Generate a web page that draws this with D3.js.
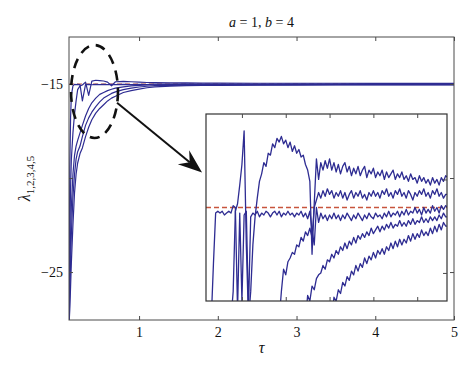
<!DOCTYPE html>
<html>
<head>
<meta charset="utf-8">
<script src="https://cdn.jsdelivr.net/npm/d3@7"></script>
<style>
  body { margin: 0; background: #fff; }
</style>
</head>
<body>
<div id="chart"></div>
<script>
// main panel: sample times and the five exponents
var mainTau = [0.11, 0.115, 0.12, 0.13, 0.14, 0.16, 0.18, 0.2, 0.22, 0.25, 0.28, 0.32, 0.36, 0.4, 0.45, 0.5,
  0.55, 0.6, 0.65, 0.7, 0.8, 0.9, 1.0, 1.1, 1.2, 1.4, 1.6, 1.8, 2.0, 2.5, 3.0, 3.5, 4.0, 4.5, 5.0];
var lambda1 = [-27.6, -23.5, -19.5, -16.8, -15.6, -15.1, -15.02, -15.03, -15.02, -15.03, -15.9, -15.03, -15.02, -15.04, -15.02, -15.03,
  -15.02, -15.03, -15.02, -15.03, -15.02, -15.03, -15.02, -15.03, -15.0, -15.01, -14.99, -15.01, -15.0, -15.0, -15.01, -15.0, -15.01, -15.0, -15.0];
var lambda2 = [-27.6, -25.5, -23.0, -20.5, -19.0, -17.6, -16.6, -15.9, -15.3, -15.1, -15.05, -14.9, -15.6, -14.85, -14.8, -14.82,
  -14.84, -14.9, -15.1, -14.88, -14.86, -14.88, -14.9, -14.92, -14.93, -14.94, -14.94, -14.95, -14.95, -14.96, -14.96, -14.96, -14.97, -14.97, -14.97];
var lambda3 = [-27.6, -26.5, -25.0, -23.0, -21.5, -19.8, -18.8, -18.3, -18.0, -17.6, -17.2, -16.7, -16.3, -16.0, -15.75, -15.55,
  -15.45, -15.35, -15.28, -15.22, -15.15, -15.1, -15.07, -15.05, -15.04, -15.03, -15.03, -15.03, -15.03, -15.03, -15.02, -15.02, -15.02, -15.02, -15.02];
var lambda4 = [-27.6, -27.0, -26.0, -24.5, -23.0, -21.0, -19.8, -19.0, -18.6, -18.3, -17.8, -17.2, -16.8, -16.5, -16.2, -15.95,
  -15.75, -15.62, -15.5, -15.42, -15.3, -15.22, -15.16, -15.12, -15.09, -15.07, -15.06, -15.05, -15.05, -15.04, -15.04, -15.04, -15.04, -15.03, -15.03];
var lambda5 = [-27.6, -27.4, -27.0, -25.8, -24.5, -22.5, -20.8, -19.8, -19.2, -18.7, -18.4, -17.8, -17.3, -16.9, -16.55, -16.3,
  -16.1, -15.9, -15.75, -15.65, -15.45, -15.35, -15.27, -15.2, -15.15, -15.11, -15.09, -15.08, -15.07, -15.06, -15.06, -15.05, -15.05, -15.05, -15.05];

// inset: regular sampling from insetT0 with step insetDt, each curve begins at its start index
var insetT0 = 0.12, insetDt = 0.005;
var inset1Start = 0;
var inset1 = [-15.6, -15.6, -15.6, -15.3, -15.03, -15.02, -15.03, -15.02, -15.04, -15.03,
  -15.02, -15.03, -14.99, -15.0, -15.55, -15.03, -15.5, -15.04, -15.02, -15.55,
  -15.05, -15.03, -15.04, -15.02, -15.05, -15.03, -15.04, -15.02, -15.03, -15.05,
  -15.03, -15.02, -15.04, -15.02, -15.05, -15.03, -15.04, -15.02, -15.04, -15.03,
  -15.05, -15.03, -15.04, -15.02, -15.05, -15.03, -15.06, -15.02, -15.12, -15.2,
  -15.0, -15.08, -15.03, -15.06, -15.04, -15.07, -15.04, -15.06, -15.03, -15.06,
  -15.04, -15.07, -15.04, -15.06, -15.03, -15.05, -15.07, -15.04, -15.06, -15.03,
  -15.05, -15.07, -15.04, -15.06, -15.03, -15.05, -15.06, -15.03, -15.05, -15.04,
  -15.06, -15.03, -15.05, -15.02, -15.05, -15.03, -15.04, -15.02, -15.05, -15.02,
  -15.04, -15.01, -15.04, -15.02, -15.03, -15.0, -15.03, -15.01, -15.04, -15.0,
  -15.03, -15.01, -15.03, -14.99, -15.02, -15.0, -15.03, -14.99, -15.01, -14.99, -15.0];
var inset2Start = 11;
var inset2 = [-15.6, -15.45, -15.02, -14.98, -14.88, -14.77, -14.59, -15.2, -15.6,
  -15.45, -15.2, -15.05, -14.95, -14.86, -14.82, -14.76, -14.78, -14.71, -14.72,
  -14.66, -14.68, -14.63, -14.65, -14.62, -14.66, -14.64, -14.68, -14.65, -14.70,
  -14.67, -14.71, -14.69, -14.73, -14.72, -14.77, -14.80, -14.86, -15.25, -14.98,
  -14.74, -14.85, -14.76, -14.80, -14.75, -14.79, -14.74, -14.80, -14.76, -14.81,
  -14.77, -14.82, -14.78, -14.76, -14.81, -14.78, -14.83, -14.79, -14.82, -14.78,
  -14.83, -14.80, -14.78, -14.84, -14.80, -14.82, -14.79, -14.84, -14.81, -14.83,
  -14.80, -14.85, -14.81, -14.84, -14.82, -14.80, -14.85, -14.82, -14.84, -14.81,
  -14.85, -14.83, -14.86, -14.82, -14.85, -14.84, -14.87, -14.83, -14.86, -14.84,
  -14.87, -14.85, -14.88, -14.84, -14.87, -14.85, -14.88, -14.84, -14.86, -14.83, -14.84];
var inset3Start = 33;
var inset3 = [-15.6, -15.45, -15.33, -15.36, -15.29, -15.27, -15.24,
  -15.25, -15.20, -15.21, -15.16, -15.18, -15.13, -15.15, -15.11, -15.16, -15.0,
  -14.96, -14.92, -14.95, -14.91, -14.94, -14.90, -14.93, -14.91, -14.95, -14.92,
  -14.94, -14.91, -14.95, -14.92, -14.96, -14.93, -14.91, -14.95, -14.92, -14.94,
  -14.91, -14.95, -14.93, -14.96, -14.92, -14.94, -14.91, -14.94, -14.92, -14.95,
  -14.91, -14.93, -14.90, -14.94, -14.92, -14.95, -14.91, -14.93, -14.90, -14.94,
  -14.92, -14.95, -14.91, -14.93, -14.96, -14.92, -14.94, -14.91, -14.93, -14.90,
  -14.94, -14.92, -14.95, -14.91, -14.93, -14.90, -14.94, -14.92, -14.95, -14.93, -14.93];
var inset4Start = 45;
var inset4 = [-15.6, -15.47, -15.5, -15.42, -15.44,
  -15.38, -15.36, -15.35, -15.31, -15.33, -15.28, -15.29, -15.25, -15.27, -15.23,
  -15.25, -15.21, -15.23, -15.19, -15.22, -15.18, -15.20, -15.16, -15.19, -15.15,
  -15.17, -15.14, -15.16, -15.13, -15.15, -15.11, -15.14, -15.12, -15.10, -15.13,
  -15.10, -15.12, -15.09, -15.11, -15.08, -15.11, -15.09, -15.10, -15.07, -15.10,
  -15.08, -15.10, -15.07, -15.09, -15.06, -15.09, -15.07, -15.08, -15.05, -15.08,
  -15.06, -15.08, -15.05, -15.07, -15.05, -15.07, -15.04, -15.06, -15.03, -15.05, -15.05];
var inset5Start = 57;
var inset5 = [-15.6, -15.48, -15.5,
  -15.44, -15.46, -15.40, -15.42, -15.37, -15.39, -15.34, -15.36, -15.31, -15.34,
  -15.30, -15.32, -15.27, -15.30, -15.26, -15.28, -15.24, -15.27, -15.23, -15.25,
  -15.22, -15.25, -15.21, -15.23, -15.19, -15.22, -15.18, -15.21, -15.17, -15.20,
  -15.17, -15.19, -15.15, -15.18, -15.14, -15.17, -15.14, -15.16, -15.12, -15.15,
  -15.13, -15.15, -15.11, -15.14, -15.10, -15.13, -15.09, -15.12, -15.08, -15.10, -15.10];

// ticks and reference level
var xTicks = [1, 2, 3, 4, 5];
var yTicks = [-15, -20, -25];
var yTickLabels = ["\u221215", "", "\u221225"];
var insetXTicks = [0.2, 0.3, 0.4, 0.5, 0.6];
var insetYTicks = [-14.85, -15.35];
var refLevel = -15;

// annotation: dashed ellipse around the early transient and the arrow to the inset
var ellipseCenter = [0.434, -15.4];
var ellipseRadius = [0.298, 2.47];
var arrowFrom = [0.72, -16.0];
var arrowTo = [1.80, -19.7];

var width = 474, height = 370;
var serif = "Liberation Serif";
var lineColor = "#2e2c92";
var redColor = "#c8553d";
var axisColor = "#4a4a4a";

var svg = d3.select("#chart").append("svg")
  .attr("width", width)
  .attr("height", height);

// main scales
var x = d3.scaleLinear().domain([0.11, 5]).range([69, 454]);
var y = d3.scaleLinear().domain([-27.55, -12.5]).range([320, 37]);

svg.append("clipPath").attr("id", "mainClip")
  .append("rect")
  .attr("x", x.range()[0]).attr("y", y.range()[1])
  .attr("width", x.range()[1] - x.range()[0])
  .attr("height", y.range()[0] - y.range()[1]);

// red reference level under the curves
svg.append("line")
  .attr("x1", x.range()[0]).attr("x2", x.range()[1])
  .attr("y1", y(refLevel)).attr("y2", y(refLevel))
  .attr("stroke", redColor)
  .attr("stroke-width", 1.2)
  .attr("stroke-dasharray", "5,3");

var mainLine = d3.line()
  .x((d, i) => x(mainTau[i]))
  .y(d => y(d));

var mainG = svg.append("g").attr("clip-path", "url(#mainClip)");
[lambda5, lambda4, lambda3, lambda2, lambda1].forEach(function (s) {
  mainG.append("path")
    .datum(s)
    .attr("d", mainLine)
    .attr("fill", "none")
    .attr("stroke", lineColor)
    .attr("stroke-width", 1.2)
    .attr("stroke-linejoin", "round");
});

// main frame and ticks
svg.append("rect")
  .attr("x", x.range()[0]).attr("y", y.range()[1])
  .attr("width", x.range()[1] - x.range()[0])
  .attr("height", y.range()[0] - y.range()[1])
  .attr("fill", "none")
  .attr("stroke", axisColor)
  .attr("stroke-width", 1);

function styleAxis(g) {
  g.attr("font-family", null).attr("font-size", null);
  g.select(".domain").remove();
  g.selectAll(".tick line").attr("stroke", axisColor);
  g.selectAll(".tick text")
    .attr("font-family", serif)
    .attr("font-size", 14)
    .attr("fill", "#111");
}

svg.append("g")
  .attr("transform", "translate(0," + y.range()[0] + ")")
  .call(d3.axisBottom(x).tickValues(xTicks).tickSize(-4).tickPadding(7).tickFormat(d3.format("d")))
  .call(styleAxis);
svg.append("g")
  .attr("transform", "translate(0," + y.range()[1] + ")")
  .call(d3.axisTop(x).tickValues(xTicks).tickSize(-4).tickFormat(""))
  .call(styleAxis);
svg.append("g")
  .attr("transform", "translate(" + x.range()[0] + ",0)")
  .call(d3.axisLeft(y).tickValues(yTicks).tickSize(-4).tickPadding(6)
    .tickFormat((d, i) => yTickLabels[i]))
  .call(styleAxis);
svg.append("g")
  .attr("transform", "translate(" + x.range()[1] + ",0)")
  .call(d3.axisRight(y).tickValues(yTicks).tickSize(-4).tickFormat(""))
  .call(styleAxis);

// title
var title = svg.append("text")
  .attr("x", (x.range()[0] + x.range()[1]) / 2)
  .attr("y", 27)
  .attr("text-anchor", "middle")
  .attr("font-family", serif)
  .attr("font-size", 14)
  .attr("fill", "#111");
title.append("tspan").attr("font-style", "italic").text("a");
title.append("tspan").text(" = 1, ");
title.append("tspan").attr("font-style", "italic").text("b");
title.append("tspan").text(" = 4");

// axis labels
svg.append("text")
  .attr("x", (x.range()[0] + x.range()[1]) / 2)
  .attr("y", 353)
  .attr("text-anchor", "middle")
  .attr("font-family", serif)
  .attr("font-size", 16)
  .attr("font-style", "italic")
  .attr("fill", "#111")
  .text("\u03c4");

var ylab = svg.append("text")
  .attr("transform", "translate(30," + ((y.range()[0] + y.range()[1]) / 2) + ") rotate(-90)")
  .attr("text-anchor", "middle")
  .attr("font-family", serif)
  .attr("font-size", 16)
  .attr("fill", "#111");
ylab.append("tspan").attr("font-style", "italic").text("\u03bb");
ylab.append("tspan").attr("font-size", 11).attr("dy", 4).text("1,2,3,4,5");

// dashed ellipse
svg.append("ellipse")
  .attr("cx", x(ellipseCenter[0]))
  .attr("cy", y(ellipseCenter[1]))
  .attr("rx", x(ellipseCenter[0] + ellipseRadius[0]) - x(ellipseCenter[0]))
  .attr("ry", y(ellipseCenter[1]) - y(ellipseCenter[1] + ellipseRadius[1]))
  .attr("fill", "none")
  .attr("stroke", "#111")
  .attr("stroke-width", 2.6)
  .attr("stroke-dasharray", "10,7");

// inset
var ix = d3.scaleLinear().domain([0.118, 0.668]).range([206, 447]);
var iy = d3.scaleLinear().domain([-15.5, -14.5]).range([301, 114]);

svg.append("rect")
  .attr("x", ix.range()[0]).attr("y", iy.range()[1])
  .attr("width", ix.range()[1] - ix.range()[0])
  .attr("height", iy.range()[0] - iy.range()[1])
  .attr("fill", "#fff");

svg.append("clipPath").attr("id", "insetClip")
  .append("rect")
  .attr("x", ix.range()[0]).attr("y", iy.range()[1])
  .attr("width", ix.range()[1] - ix.range()[0])
  .attr("height", iy.range()[0] - iy.range()[1]);

var insetG = svg.append("g").attr("clip-path", "url(#insetClip)");

insetG.append("line")
  .attr("x1", ix.range()[0]).attr("x2", ix.range()[1])
  .attr("y1", iy(refLevel)).attr("y2", iy(refLevel))
  .attr("stroke", redColor)
  .attr("stroke-width", 1.3)
  .attr("stroke-dasharray", "5,3");

var insetCurves = [
  { start: inset5Start, values: inset5 },
  { start: inset4Start, values: inset4 },
  { start: inset3Start, values: inset3 },
  { start: inset1Start, values: inset1 },
  { start: inset2Start, values: inset2 }
];
insetCurves.forEach(function (c) {
  var line = d3.line()
    .x((d, i) => ix(insetT0 + (c.start + i) * insetDt))
    .y(d => iy(d));
  insetG.append("path")
    .datum(c.values)
    .attr("d", line)
    .attr("fill", "none")
    .attr("stroke", lineColor)
    .attr("stroke-width", 1.3)
    .attr("stroke-linejoin", "round");
});

svg.append("rect")
  .attr("x", ix.range()[0]).attr("y", iy.range()[1])
  .attr("width", ix.range()[1] - ix.range()[0])
  .attr("height", iy.range()[0] - iy.range()[1])
  .attr("fill", "none")
  .attr("stroke", "#333")
  .attr("stroke-width", 1.2);

svg.append("g")
  .attr("transform", "translate(0," + iy.range()[1] + ")")
  .call(d3.axisTop(ix).tickValues(insetXTicks).tickSize(-4).tickFormat(""))
  .call(styleAxis);
svg.append("g")
  .attr("transform", "translate(0," + iy.range()[0] + ")")
  .call(d3.axisBottom(ix).tickValues(insetXTicks).tickSize(-4).tickFormat(""))
  .call(styleAxis);
svg.append("g")
  .attr("transform", "translate(" + ix.range()[1] + ",0)")
  .call(d3.axisRight(iy).tickValues(insetYTicks).tickSize(-4).tickFormat(""))
  .call(styleAxis);

// arrow from the ellipse to the inset
var ax0 = x(arrowFrom[0]), ay0 = y(arrowFrom[1]);
var ax1 = x(arrowTo[0]), ay1 = y(arrowTo[1]);
var len = Math.hypot(ax1 - ax0, ay1 - ay0);
var ux = (ax1 - ax0) / len, uy = (ay1 - ay0) / len;
var nx = -uy, ny = ux;
var headLen = 24, headHalf = 9, notch = 16;

svg.append("line")
  .attr("x1", ax0).attr("y1", ay0)
  .attr("x2", ax1 - ux * notch).attr("y2", ay1 - uy * notch)
  .attr("stroke", "#111")
  .attr("stroke-width", 2);

var head = [
  [ax1, ay1],
  [ax1 - ux * headLen + nx * headHalf, ay1 - uy * headLen + ny * headHalf],
  [ax1 - ux * notch, ay1 - uy * notch],
  [ax1 - ux * headLen - nx * headHalf, ay1 - uy * headLen - ny * headHalf]
];
svg.append("path")
  .attr("d", d3.line()(head) + "Z")
  .attr("fill", "#111");
</script>
</body>
</html>
